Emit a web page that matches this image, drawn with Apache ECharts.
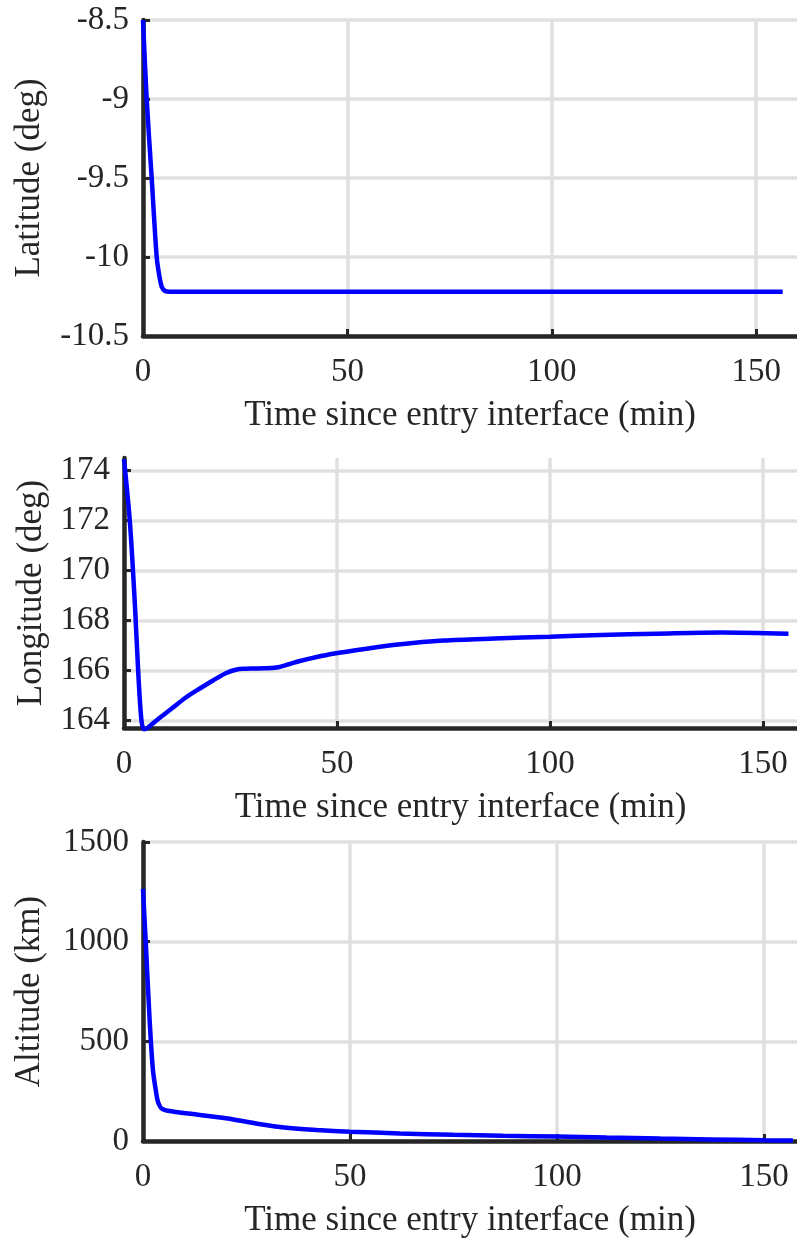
<!DOCTYPE html>
<html>
<head>
<meta charset="utf-8">
<script src="https://cdn.jsdelivr.net/npm/echarts@6/dist/echarts.min.js"></script>
<style>
  html, body { margin: 0; padding: 0; background: #fff; }
  #main { width: 797px; height: 1242px; }
</style>
</head>
<body>
<div id="main"></div>
<script>
// x ticks shared by all three panels
var timeTicks = [0, 50, 100, 150];

// latitude panel
var latTicks = [-10.5, -10, -9.5, -9, -8.5];
var latTime = [0, 0.9, 2.1, 3.35, 4.0, 4.6, 5.4, 6.5, 20, 50, 100, 156.5];
var latitude = [-8.5, -9.0, -9.49, -10.0, -10.12, -10.19, -10.215, -10.22, -10.22, -10.22, -10.22, -10.22];

// longitude panel
var lonTicks = [164, 166, 168, 170, 172, 174];
var lonTime = [0, 1.4, 2.6, 3.35, 4.1, 4.7, 5.5, 7.6, 11, 14.6, 18, 20.9, 24, 26.5, 28.5, 30.3, 33, 35.8, 38.5, 41.3, 45, 49.1, 56.9, 64.3, 75, 87, 100, 112, 125, 140, 156];
var longitude = [174.45, 171.9, 168.5, 165.9, 164.0, 163.65, 163.7, 164.0, 164.45, 164.93, 165.3, 165.6, 165.9, 166.04, 166.07, 166.08, 166.09, 166.12, 166.24, 166.38, 166.53, 166.67, 166.87, 167.04, 167.2, 167.28, 167.35, 167.42, 167.47, 167.52, 167.47];

// altitude panel
var altTicks = [0, 500, 1000, 1500];
var altTime = [0, 0.8, 1.6, 2.4, 3.2, 3.6, 4.2, 4.8, 6, 12, 20, 24, 28, 32, 36, 42, 50, 62, 75, 87, 100, 112, 125, 137, 150, 157];
var altitude = [1265, 940, 607, 356, 240, 197, 170, 159, 152, 135, 114, 100, 85, 73, 64, 55, 47, 38, 31, 26, 22, 17, 12, 8, 4, 2];

var txt = '#262626';
var font = 'Liberation Serif';
var plain = function (v) { return String(v); };

function pairs(xs, ys) {
    return xs.map(function (x, i) { return [x, ys[i]]; });
}

function xAx(grid, max) {
    return {
        type: 'value', gridIndex: grid, min: 0, max: max,
        name: 'Time since entry interface (min)',
        nameLocation: 'middle', nameGap: 62,
        nameTextStyle: { fontFamily: font, fontSize: 35, color: txt },
        axisLine: { show: true, onZero: false, lineStyle: { color: txt, width: 4.5 } },
        axisTick: { show: true, inside: true, length: 7, customValues: timeTicks, lineStyle: { color: txt, width: 3 } },
        axisLabel: { customValues: timeTicks, formatter: plain, margin: 20, fontFamily: font, fontSize: 33, color: txt },
        splitLine: { show: true, lineStyle: { color: '#e0e0e0', width: 3.5 } }
    };
}

function yAx(grid, name, min, max, ticks, gap) {
    return {
        type: 'value', gridIndex: grid, min: min, max: max,
        name: name, nameLocation: 'middle', nameGap: gap,
        nameTextStyle: { fontFamily: font, fontSize: 35, color: txt },
        axisLine: { show: true, onZero: false, lineStyle: { color: txt, width: 4.5 } },
        axisTick: { show: true, inside: true, length: 7, customValues: ticks, lineStyle: { color: txt, width: 3 } },
        axisLabel: { customValues: ticks, formatter: plain, margin: 14, fontFamily: font, fontSize: 33, color: txt },
        splitLine: { show: true, lineStyle: { color: '#e0e0e0', width: 3.5 } }
    };
}

function line(i, data) {
    return {
        type: 'line', xAxisIndex: i, yAxisIndex: i, data: data,
        showSymbol: false, smooth: 0.3, clip: false,
        lineStyle: { color: '#0000ff', width: 4.5 }, z: 5
    };
}

var option = {
    animation: false,
    backgroundColor: '#fff',
    grid: [
        { left: 143, right: 0, top: 20, height: 316 },
        { left: 124, right: 0, top: 458, height: 270 },
        { left: 143, right: 0, top: 842, height: 299 }
    ],
    xAxis: [xAx(0, 160), xAx(1, 158), xAx(2, 158)],
    yAxis: [
        yAx(0, 'Latitude (deg)', -10.5, -8.5, latTicks, 96),
        yAx(1, 'Longitude (deg)', 163.7, 174.5, lonTicks, 71),
        yAx(2, 'Altitude (km)', 0, 1500, altTicks, 96)
    ],
    series: [
        line(0, pairs(latTime, latitude)),
        line(1, pairs(lonTime, longitude)),
        line(2, pairs(altTime, altitude))
    ]
};

var chart = echarts.init(document.getElementById('main'));
chart.setOption(option);
</script>
</body>
</html>
